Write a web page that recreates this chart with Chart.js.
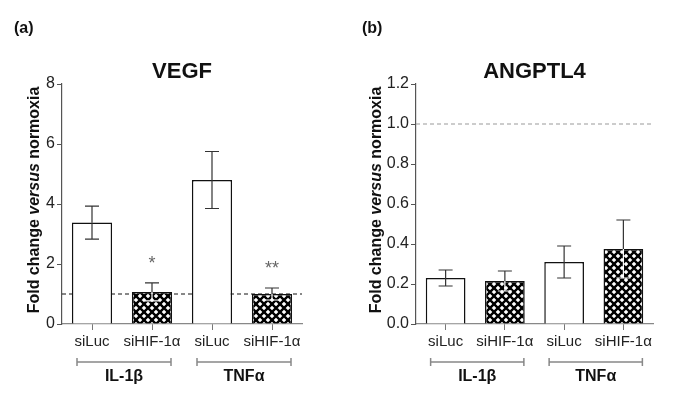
<!DOCTYPE html>
<html>
<head>
<meta charset="utf-8">
<script src="https://cdn.jsdelivr.net/npm/chart.js@4"></script>
<style>
  html, body { margin: 0; padding: 0; background: #fff; }
  #wrap { position: relative; width: 685px; height: 416px; }
  #chart-a { position: absolute; left: 0; top: 0; }
  #chart-b { position: absolute; left: 342px; top: 0; }
</style>
</head>
<body>
<div id="wrap">
  <canvas id="chart-a" width="342" height="416"></canvas>
  <canvas id="chart-b" width="343" height="416"></canvas>
</div>
<script>
// Categorias e grupos (comuns aos dois painéis)
const categorias = ["siLuc", "siHIF-1α", "siLuc", "siHIF-1α"];
const grupos = ["IL-1β", "TNFα"];

// Painel (a) — VEGF
const vegfMedia = [3.38, 1.07, 4.8, 1.0];
const vegfErro = [0.55, 0.3, 0.95, 0.2];
const vegfSig = ["", "*", "", "**"];
const vegfTicks = [0, 2, 4, 6, 8];

// Painel (b) — ANGPTL4
const angMedia = [0.23, 0.215, 0.31, 0.375];
const angErro = [0.04, 0.05, 0.08, 0.145];
const angSig = ["", "", "", ""];
const angTicks = [0, 0.2, 0.4, 0.6, 0.8, 1.0, 1.2];

const FONTE = "'Liberation Sans', Arial, sans-serif";

// Hachura cruzada das barras siHIF
function hachura() {
  const c = document.createElement("canvas");
  c.width = c.height = 8;
  const g = c.getContext("2d");
  g.fillStyle = "#fff";
  g.fillRect(0, 0, 8, 8);
  g.strokeStyle = "#000";
  g.lineWidth = 2.4;
  [-8, 0, 8].forEach((k) => {
    g.beginPath();
    g.moveTo(k - 2, -2); g.lineTo(k + 10, 10);
    g.moveTo(k + 10, -2); g.lineTo(k - 2, 10);
    g.stroke();
  });
  return g.createPattern(c, "repeat");
}

function criarPainel(canvas, cfg) {
  const padrao = hachura();
  const plugin = {
    id: "extras",
    beforeDatasetsDraw(chart) {
      const { ctx, chartArea: a, scales: { y } } = chart;
      const py = y.getPixelForValue(1);
      ctx.save();
      ctx.strokeStyle = cfg.corTracejado;
      ctx.lineWidth = 1;
      ctx.setLineDash([4, 3]);
      ctx.beginPath();
      ctx.moveTo(a.left, py);
      ctx.lineTo(a.right, py);
      ctx.stroke();
      ctx.restore();
    },
    afterDatasetsDraw(chart) {
      const { ctx, scales: { y } } = chart;
      const meta = chart.getDatasetMeta(0);
      ctx.save();
      meta.data.forEach((bar, i) => {
        const m = cfg.media[i], e = cfg.erro[i];
        const x = bar.x;
        const yTop = y.getPixelForValue(m + e);
        const yMid = y.getPixelForValue(m);
        const yLow = y.getPixelForValue(m - e);
        const cap = 7;
        ctx.lineWidth = 1.2;
        ctx.strokeStyle = "#333";
        ctx.beginPath();
        ctx.moveTo(x, yTop); ctx.lineTo(x, yMid);
        ctx.moveTo(x - cap, yTop); ctx.lineTo(x + cap, yTop);
        ctx.stroke();
        ctx.strokeStyle = i % 2 === 1 ? "#fff" : "#333";
        ctx.beginPath();
        ctx.moveTo(x, yMid); ctx.lineTo(x, yLow);
        ctx.moveTo(x - cap, yLow); ctx.lineTo(x + cap, yLow);
        ctx.stroke();
        if (cfg.sig[i]) {
          ctx.fillStyle = "#666";
          ctx.font = "18px " + FONTE;
          ctx.textAlign = "center";
          ctx.textBaseline = "middle";
          ctx.fillText(cfg.sig[i], x, yTop - 19);
        }
      });
      ctx.restore();
    },
    afterDraw(chart) {
      const { ctx, chartArea: a, scales: { x } } = chart;
      ctx.save();
      ctx.fillStyle = "#111";
      // Rótulo do painel
      ctx.font = "bold 16px " + FONTE;
      ctx.textAlign = "left";
      ctx.textBaseline = "middle";
      ctx.fillText(cfg.rotulo, cfg.rotuloX, 29);
      // Título
      ctx.font = "bold 22px " + FONTE;
      ctx.textAlign = "center";
      ctx.fillText(cfg.titulo, (a.left + a.right) / 2, 72);
      // Título do eixo y com "versus" em itálico
      const partes = [["bold ", "Fold change "], ["bold italic ", "versus"], ["bold ", " normoxia"]];
      let total = 0;
      partes.forEach(([f, t]) => { ctx.font = f + "16px " + FONTE; total += ctx.measureText(t).width; });
      ctx.translate(35, 200);
      ctx.rotate(-Math.PI / 2);
      ctx.textAlign = "left";
      let px = -total / 2;
      partes.forEach(([f, t]) => {
        ctx.font = f + "16px " + FONTE;
        ctx.fillText(t, px, 0);
        px += ctx.measureText(t).width;
      });
      ctx.setTransform(1, 0, 0, 1, 0, 0);
      // Colchetes dos grupos
      ctx.strokeStyle = "#888";
      ctx.lineWidth = 1.5;
      ctx.font = "bold 16px " + FONTE;
      ctx.fillStyle = "#111";
      grupos.forEach((g, k) => {
        const x0 = x.getPixelForValue(2 * k) - 15;
        const x1 = x.getPixelForValue(2 * k + 1) + 19;
        ctx.beginPath();
        ctx.moveTo(x0, 362); ctx.lineTo(x1, 362);
        ctx.moveTo(x0, 358); ctx.lineTo(x0, 366);
        ctx.moveTo(x1, 358); ctx.lineTo(x1, 366);
        ctx.stroke();
        ctx.textAlign = "center";
        ctx.fillText(g, (x0 + x1) / 2, 377);
      });
      ctx.restore();
    },
  };

  return new Chart(canvas, {
    type: "bar",
    data: {
      labels: categorias,
      datasets: [{
        data: cfg.media,
        backgroundColor: cfg.media.map((_, i) => (i % 2 === 1 ? padrao : "#fff")),
        borderColor: "#111",
        borderWidth: 1.5,
        barPercentage: 0.67,
        categoryPercentage: 1,
      }],
    },
    options: {
      responsive: false,
      animation: false,
      layout: { padding: { top: 84, right: cfg.direita, left: 0, bottom: 0 } },
      plugins: { legend: { display: false }, tooltip: { enabled: false }, title: { display: false } },
      scales: {
        x: {
          offset: true,
          grid: { display: true, drawOnChartArea: false, offset: false, tickLength: 6, color: "#777" },
          border: { display: true, color: "#888", width: 1.2 },
          ticks: { color: "#222", padding: 3, font: { family: FONTE, size: 15 }, maxRotation: 0, autoSkip: false },
          afterFit: (s) => { s.height = 92; },
        },
        y: {
          min: cfg.ticks[0],
          max: cfg.ticks[cfg.ticks.length - 1],
          afterBuildTicks: (s) => { s.ticks = cfg.ticks.map((v) => ({ value: v })); },
          grid: { display: true, drawOnChartArea: false, tickLength: 5, color: "#555" },
          border: { display: true, color: "#555", width: 1.2 },
          ticks: {
            color: "#222",
            padding: 2,
            font: { family: FONTE, size: 16 },
            callback: (v) => cfg.formato(v),
          },
          afterFit: (s) => { s.width = cfg.larguraY; },
        },
      },
    },
    plugins: [plugin],
  });
}

criarPainel(document.getElementById("chart-a"), {
  media: vegfMedia, erro: vegfErro, sig: vegfSig, ticks: vegfTicks,
  titulo: "VEGF", rotulo: "(a)", rotuloX: 14,
  corTracejado: "#111", direita: 40, larguraY: 62,
  formato: (v) => String(v),
});

criarPainel(document.getElementById("chart-b"), {
  media: angMedia, erro: angErro, sig: angSig, ticks: angTicks,
  titulo: "ANGPTL4", rotulo: "(b)", rotuloX: 20,
  corTracejado: "#999", direita: 32, larguraY: 74,
  formato: (v) => Number(v).toFixed(1),
});
</script>
</body>
</html>
